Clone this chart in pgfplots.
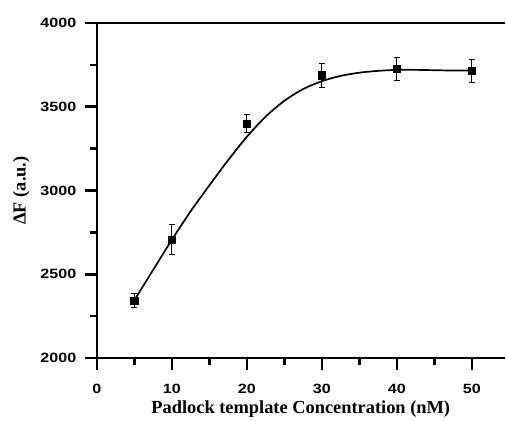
\documentclass[border=0pt]{standalone}
\usepackage{pgfplots}
\pgfplotsset{compat=1.18}
\usepackage{fontspec}
\setmainfont{Liberation Serif}
\newfontfamily\ticksf[FakeStretch=1.2]{Liberation Sans}
\begin{document}
\begin{tikzpicture}
\begin{axis}[
  scale only axis, width=409bp, height=336bp,
  xmin=0, xmax=54.4, ymin=2000, ymax=4000,
  axis x line=box, axis y line=left,
  axis line style={line width=2.5pt,-},
  xtick={0,10,20,30,40,50}, ytick={2000,2500,3000,3500,4000},
  minor x tick num=1, minor y tick num=1,
  xtick pos=bottom, ytick pos=left,
  tick align=outside,
  major tick length=12bp, minor tick length=7bp,
  every tick/.style={line width=2.5pt, black},
  /pgf/number format/assume math mode=true,
  /pgf/number format/set thousands separator={},
  ticklabel style={font=\ticksf\bfseries\fontsize{13.5}{13.5}\selectfont},
  xticklabel style={yshift=-11bp},
  yticklabel style={xshift=-5bp},
  xlabel={Padlock template Concentration (nM)},
  ylabel={ΔF (a.u.)},
  label style={font=\bfseries\fontsize{18.5}{18.5}\selectfont},
  xlabel style={yshift=0bp},
  ylabel style={yshift=4bp},
  clip=false,
]
\addplot[black, line width=1.7pt, smooth] coordinates {
(5,2345)(7.5,2525)(10,2705)(12.5,2875)(15,3030)(17.5,3180)(20,3320)(22.5,3440)(25,3535)(27.5,3605)(30,3652)(32.5,3684)(35,3703)(37.5,3714)(40,3720)(42.5,3720)(45,3718)(47.5,3716)(50,3716)};
\addplot[only marks, mark=square*, mark size=3.6bp, black,
  error bars/.cd, y dir=both, y explicit,
  error bar style={line width=0.6pt, black},
  error mark options={rotate=90, mark size=3.2bp, line width=0.6pt}]
  coordinates {
  (5,2345) +- (0,40)
  (10,2708) +- (0,90)
  (20,3400) +- (0,52)
  (30,3688) +- (0,70)
  (40,3726) +- (0,68)
  (50,3715) +- (0,67)
};
\path[use as bounding box] (rel axis cs:0,0) ++(-97bp,-60bp) rectangle ([yshift=23bp]rel axis cs:1,1);
\end{axis}
\end{tikzpicture}
\end{document}
